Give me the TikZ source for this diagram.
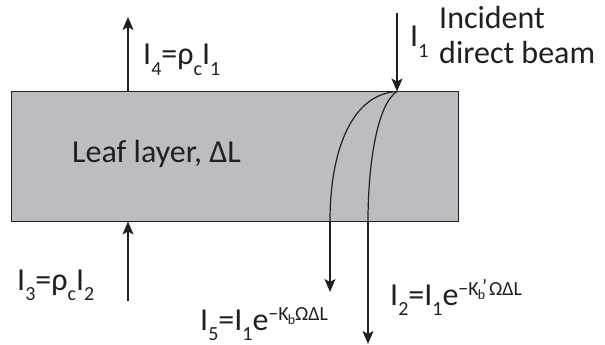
\documentclass[tikz,border=0pt]{standalone}
\usepackage{fontspec}
\setmainfont{Carlito}
\usetikzlibrary{arrows.meta}
\definecolor{ink}{HTML}{231F20}
\definecolor{leaf}{HTML}{BCBDC0}
\newcommand{\sbx}[1]{\raisebox{-0.68ex}{\fontsize{20}{20}\selectfont #1}}
\newcommand{\spx}[1]{\raisebox{0.62ex}{\fontsize{20}{20}\selectfont #1}}
\newcommand{\ssbx}[1]{\raisebox{-0.45ex}{\fontsize{14}{14}\selectfont #1}}
\begin{document}
\begin{tikzpicture}[x=1pt,y=-1pt,
  lbl/.style={anchor=base west,inner sep=0pt,text=ink,font=\fontsize{32}{35}\selectfont},
  beam/.style={draw=ink,line width=1.2pt},
  arr/.style={beam,-{Stealth[length=13pt,width=11pt,inset=3pt]}}]
\useasboundingbox (0,0) rectangle (605,345);
\node[draw=ink,fill=leaf,line width=1.2pt,minimum width=447pt,minimum height=130pt,inner sep=0pt,anchor=north west] (layer) at (11,91) {};
\coordinate (hit) at (397,91.5);
\coordinate (topsrc) at (397,13);
\coordinate (upend) at (128,17);
\coordinate (upstart) at (128,91.5);
\coordinate (botsrc) at (128,301);
\coordinate (botend) at (128,221.5);
\coordinate (c1) at (330,221);
\coordinate (c1e) at (330,292);
\coordinate (c2) at (368,221);
\coordinate (c2e) at (368,344);
\draw[arr] (topsrc) -- (hit);
\draw[arr] (upstart) -- (upend);
\draw[arr] (botsrc) -- (botend);
\draw[beam] (hit) .. controls (352,94) and (330,150) .. (c1);
\draw[beam] (hit) .. controls (377,104) and (368,165) .. (c2);
\draw[arr] (c1) -- (c1e);
\draw[arr] (c2) -- (c2e);
\node[lbl] (t1) at (410,47) {I\sbx{1}};
\node[lbl,align=left,anchor=north west] (inc) at (439,6) {Incident\\direct beam};
\node[lbl] (t4) at (143,65) {I\sbx{4}=ρ\sbx{c}I\sbx{1}};
\node[lbl] (leafl) at (72,162) {Leaf layer, ΔL};
\node[lbl] (t3) at (17,290) {I\sbx{3}=ρ\sbx{c}I\sbx{2}};
\node[lbl] (t5) at (200,330) {I\sbx{5}=I\sbx{1}e\spx{−K\kern-0.05em\ssbx{b}ΩΔL}};
\node[lbl] (t2) at (390,305) {I\sbx{2}=I\sbx{1}e\spx{−K\kern-0.05em\ssbx{b}\kern-0.15em\raisebox{0.2ex}{'}\kern0.1emΩΔL}};
\end{tikzpicture}
\end{document}
